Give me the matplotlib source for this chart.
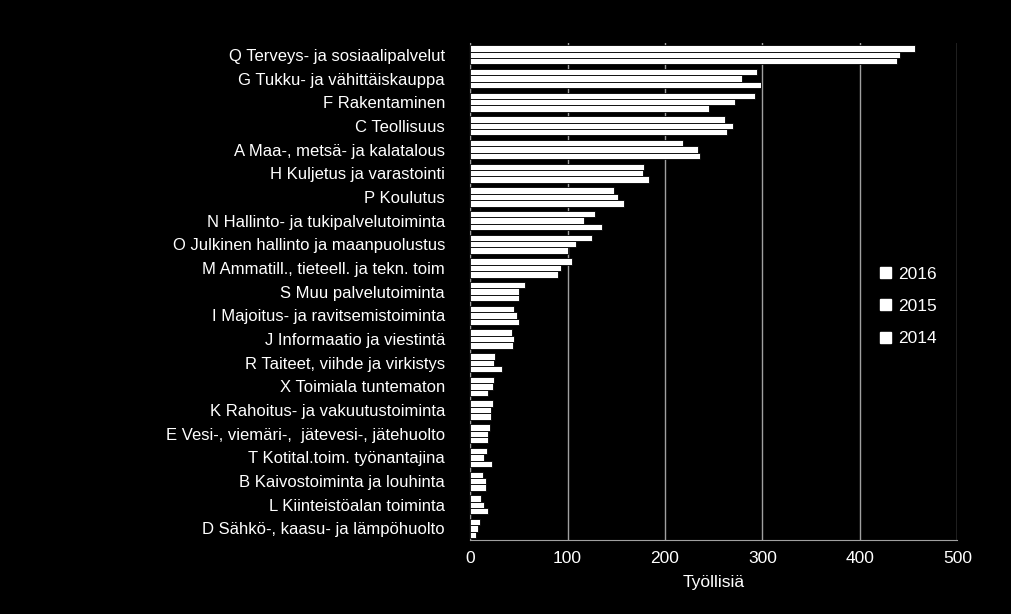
import numpy as np
import matplotlib
matplotlib.use("Agg")
import matplotlib.pyplot as plt
from matplotlib.patches import Patch

categories = [
    "Q Terveys- ja sosiaalipalvelut", "G Tukku- ja vähittäiskauppa", "F Rakentaminen",
    "C Teollisuus", "A Maa-, metsä- ja kalatalous", "H Kuljetus ja varastointi",
    "P Koulutus", "N Hallinto- ja tukipalvelutoiminta", "O Julkinen hallinto ja maanpuolustus",
    "M Ammatill., tieteell. ja tekn. toim", "S Muu palvelutoiminta",
    "I Majoitus- ja ravitsemistoiminta", "J Informaatio ja viestintä",
    "R Taiteet, viihde ja virkistys", "X Toimiala tuntematon",
    "K Rahoitus- ja vakuutustoiminta", "E Vesi-, viemäri-,  jätevesi-, jätehuolto",
    "T Kotital.toim. työnantajina", "B Kaivostoiminta ja louhinta",
    "L Kiinteistöalan toiminta", "D Sähkö-, kaasu- ja lämpöhuolto",
]
v2016 = [456, 294, 292, 262, 218, 178, 148, 128, 125, 105, 56, 45, 43, 26, 24, 23, 20, 17, 13, 11, 10]
v2015 = [441, 279, 272, 270, 234, 177, 152, 117, 109, 93, 50, 48, 45, 24, 23, 21, 18, 14, 16, 14, 8]
v2014 = [438, 298, 245, 264, 236, 184, 158, 135, 100, 90, 50, 50, 44, 33, 18, 21, 18, 22, 16, 18, 6]
years = ["2016", "2015", "2014"]

plt.rcParams["font.family"] = "Liberation Sans"
fig = plt.figure(figsize=(10.11, 6.14), dpi=100, facecolor="black")
ax = fig.add_axes([0.465, 0.12, 0.482, 0.81], facecolor="black")

n = len(categories)
y = np.arange(n)
h = 0.27
for i, vals in enumerate([v2016, v2015, v2014]):
    ax.barh(y + (i - 1) * h, vals, height=h, color="white", edgecolor="black", linewidth=0.6, zorder=3)

ax.set_ylim(n - 0.5, -0.5)
ax.set_xlim(0, 500)
ax.set_xticks([0, 100, 200, 300, 400, 500])
ax.set_yticks(y)
ax.set_yticklabels(categories)
ax.tick_params(axis="y", length=0, colors="white", labelsize=12, pad=18)
ax.tick_params(axis="x", length=0, colors="white", labelsize=12.5, pad=8)
ax.grid(axis="x", color="#a0a0a0", linewidth=1, zorder=0)
for s in ["top", "right"]:
    ax.spines[s].set_visible(False)
ax.spines["left"].set_color("#a0a0a0")
ax.spines["bottom"].set_color("#a0a0a0")
ax.set_xlabel("Työllisiä", color="white", fontsize=12.5, labelpad=6)

handles = [Patch(facecolor="white", edgecolor="white") for _ in years]
leg = ax.legend(handles, years, loc="center left", bbox_to_anchor=(0.81, 0.47), frameon=False,
                fontsize=12.5, handlelength=0.6, handleheight=0.6, labelspacing=1.0, handletextpad=0.4)
for t in leg.get_texts():
    t.set_color("white")

fig.savefig("out.png", dpi=100, facecolor="black")
